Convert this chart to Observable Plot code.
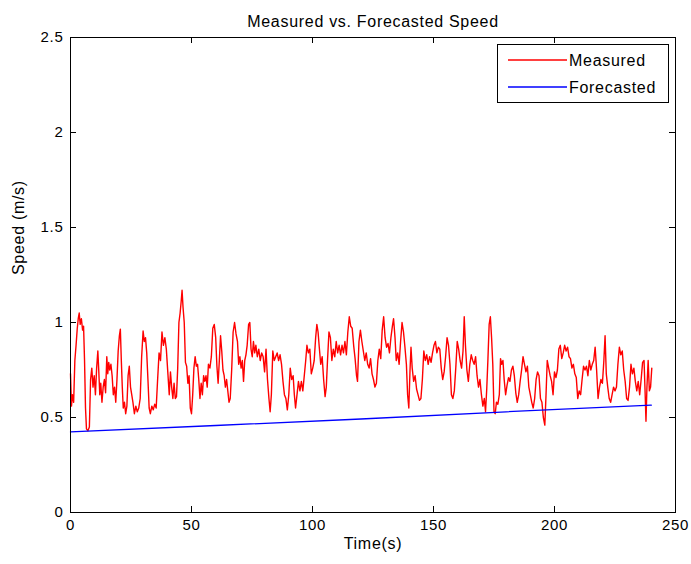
<!DOCTYPE html>
<html><head><meta charset="utf-8">
<script src="https://cdn.jsdelivr.net/npm/d3@7"></script>
<script src="https://cdn.jsdelivr.net/npm/@observablehq/plot@0.6"></script>
<style>
body{margin:0;background:#fff;font-family:"Liberation Sans",Arial,sans-serif}
#wrap{position:relative;width:691px;height:564px}
#wrap svg text{letter-spacing:0.7px}
#legend{position:absolute;left:497px;top:44px;width:172px;height:59px;border:1px solid #000;background:#fff;box-sizing:border-box}
#legend svg{display:block}
</style></head><body><div id="wrap"></div>
<script>
const title = "Measured vs. Forecasted Speed";
const xLabel = "Time(s)";
const yLabel = "Speed (m/s)";
const seriesNames = ["Measured", "Forecasted"];
const xTicks = [0, 50, 100, 150, 200, 250];
const yTicks = [0, 0.5, 1, 1.5, 2, 2.5];

const measuredTime = [0,0.4,0.8,1.3,1.8,2.3,2.8,3.2,3.6,4.0,4.5,5.0,5.4,5.8,6.2,6.6,7.2,7.8,8.3,8.8,9.3,9.8,10.3,10.8,11.3,11.7,12.1,12.5,13.0,13.5,14.0,14.5,15.0,15.4,15.8,16.2,16.7,17.2,17.7,18.2,18.7,19.2,19.7,20.2,20.6,21.0,21.4,21.8,22.3,22.8,23.3,23.8,24.3,24.8,25.3,25.8,26.4,27.0,27.6,28.2,28.8,29.4,30.0,30.5,31.0,31.5,32.0,32.5,33.0,33.6,34.2,34.8,35.4,36.0,36.6,37.2,37.8,38.4,39.0,39.6,40.2,40.8,41.3,41.8,42.3,42.8,43.3,43.8,44.3,44.8,45.3,45.8,46.1,46.5,47.0,47.5,48.0,48.5,49.0,49.5,50.0,50.5,51.0,51.5,52.0,52.5,53.0,53.5,54.0,54.5,55.0,55.5,56.0,56.5,57.0,57.6,58.2,58.8,59.4,60.0,60.5,61.0,61.5,62.0,62.5,63.0,63.5,64.0,64.5,65.0,65.5,66.0,66.6,67.2,67.8,68.4,69.0,69.5,70.0,70.5,71.0,71.5,72.0,72.5,73.0,73.6,74.1,74.6,75.1,75.6,76.1,76.6,77.2,77.8,78.4,79.0,79.6,80.2,80.8,81.4,82.0,82.5,83.0,83.6,84.2,84.8,85.4,86.0,86.6,87.2,87.8,88.4,89.0,89.6,90.2,90.8,91.4,92.0,92.5,93.0,93.6,94.2,94.8,95.4,96.0,96.6,97.2,97.7,98.3,98.9,99.5,100.1,100.7,101.3,101.8,102.3,102.8,103.4,104.0,104.6,105.2,105.7,106.2,106.8,107.4,108.0,108.6,109.2,109.8,110.4,111.0,111.6,112.2,112.8,113.4,114.0,114.6,115.2,115.8,116.4,117.0,117.6,118.2,118.6,119.2,119.8,120.4,121.0,121.6,122.2,122.8,123.4,124.0,124.6,125.2,125.8,126.4,127.0,127.6,128.2,128.8,129.4,130.0,130.6,131.2,131.8,132.4,133.0,133.5,134.1,134.6,135.2,135.8,136.4,137.0,137.6,138.2,138.8,139.3,139.8,140.3,140.7,141.2,141.8,142.4,143.0,143.6,144.2,144.8,145.4,146.0,146.6,147.2,147.8,148.4,149.0,149.6,150.2,150.8,151.4,152.0,152.6,153.2,153.8,154.4,155.0,155.6,156.2,156.8,157.4,158.0,158.6,159.2,159.8,160.4,161.0,161.6,162.2,162.7,163.2,163.8,164.4,165.0,165.6,166.2,166.8,167.4,168.0,168.6,169.2,169.8,170.4,171.0,171.5,172.0,172.5,173.0,173.5,174.0,174.5,175.0,175.5,176.0,176.6,177.2,177.7,178.2,178.7,179.2,179.8,180.4,181.0,181.6,182.2,182.8,183.4,184.0,184.6,185.2,185.8,186.4,187.0,187.6,188.2,188.8,189.4,190.0,190.6,191.2,191.8,192.4,193.0,193.6,194.2,194.8,195.4,196.0,196.5,197.0,197.6,198.2,198.8,199.4,200.0,200.6,201.2,201.8,202.4,203.0,203.6,204.2,204.8,205.4,206.0,206.6,207.2,207.8,208.4,209.0,209.6,210.2,210.8,211.4,212.0,212.6,213.2,213.8,214.4,215.0,215.6,216.2,216.8,217.4,218.0,218.6,219.2,219.8,220.4,220.9,221.4,222.0,222.6,223.2,223.8,224.4,225.0,225.6,226.2,226.8,227.4,228.0,228.6,229.2,229.8,230.4,231.0,231.6,232.2,232.8,233.4,234.0,234.6,235.2,235.8,236.4,237.0,237.4,237.8,238.2,238.7,239.2,239.7,240.2];
const measuredSpeed = [0.73,0.56,0.62,0.58,0.80,0.88,0.97,1.02,1.05,0.99,1.02,0.96,0.98,0.80,0.55,0.44,0.43,0.45,0.70,0.76,0.66,0.72,0.62,0.76,0.85,0.74,0.62,0.68,0.58,0.66,0.70,0.63,0.82,0.73,0.79,0.75,0.78,0.72,0.62,0.66,0.58,0.70,0.85,0.93,0.965,0.80,0.66,0.55,0.58,0.52,0.56,0.72,0.77,0.66,0.62,0.58,0.52,0.56,0.53,0.55,0.60,0.82,0.955,0.90,0.92,0.84,0.70,0.55,0.52,0.56,0.54,0.57,0.55,0.70,0.84,0.80,0.95,0.88,0.92,0.86,0.74,0.62,0.74,0.66,0.60,0.68,0.60,0.61,0.76,1.0,1.05,1.12,1.17,1.08,1.0,0.79,0.77,0.68,0.72,0.55,0.52,0.62,0.76,0.82,0.77,0.78,0.70,0.60,0.68,0.62,0.72,0.69,0.72,0.66,0.78,0.76,0.82,0.97,0.99,0.92,0.77,0.68,0.80,0.93,0.85,0.75,0.72,0.66,0.70,0.64,0.58,0.60,0.75,0.95,1.00,0.94,0.90,0.78,0.82,0.76,0.80,0.69,0.80,0.83,0.88,0.99,1.00,0.86,0.82,0.90,0.84,0.88,0.82,0.86,0.80,0.84,0.82,0.74,0.86,0.70,0.60,0.53,0.62,0.85,0.80,0.82,0.84,0.80,0.83,0.78,0.69,0.62,0.60,0.54,0.62,0.76,0.70,0.72,0.62,0.55,0.62,0.69,0.64,0.69,0.64,0.72,0.80,0.88,0.84,0.86,0.73,0.76,0.80,0.92,0.99,0.95,0.87,0.78,0.82,0.70,0.61,0.66,0.80,0.95,0.92,0.80,0.86,0.82,0.90,0.84,0.88,0.83,0.88,0.84,0.90,0.83,0.95,1.03,0.98,0.97,0.88,0.81,0.72,0.69,0.90,0.96,0.90,0.85,0.80,0.84,0.78,0.76,0.81,0.73,0.70,0.66,0.68,0.80,0.86,0.81,0.96,1.03,0.92,0.87,0.89,0.84,0.92,0.98,1.02,0.92,0.80,0.84,0.78,0.90,1.00,0.95,0.87,0.78,0.62,0.55,0.75,0.87,0.76,0.69,0.72,0.65,0.62,0.59,0.60,0.70,0.85,0.80,0.83,0.78,0.82,0.79,0.84,0.88,0.90,0.84,0.87,0.86,0.76,0.70,0.74,0.82,0.92,0.88,0.78,0.62,0.60,0.64,0.76,0.90,0.86,0.80,0.76,0.85,1.03,0.88,0.75,0.69,0.78,0.83,0.80,0.78,0.82,0.72,0.66,0.70,0.62,0.56,0.60,0.53,0.65,0.81,0.99,1.03,0.92,0.78,0.53,0.52,0.58,0.57,0.62,0.81,0.78,0.80,0.70,0.62,0.67,0.71,0.69,0.75,0.77,0.72,0.63,0.58,0.62,0.69,0.75,0.82,0.78,0.74,0.77,0.66,0.62,0.58,0.55,0.60,0.70,0.74,0.72,0.60,0.58,0.50,0.46,0.62,0.80,0.76,0.72,0.69,0.62,0.74,0.71,0.75,0.86,0.88,0.81,0.84,0.88,0.85,0.87,0.82,0.81,0.76,0.78,0.73,0.71,0.60,0.64,0.62,0.70,0.77,0.75,0.77,0.72,0.80,0.75,0.78,0.80,0.87,0.75,0.60,0.66,0.70,0.68,0.80,0.93,0.73,0.66,0.60,0.58,0.62,0.66,0.64,0.66,0.78,0.87,0.83,0.85,0.75,0.69,0.60,0.59,0.66,0.78,0.73,0.76,0.69,0.64,0.69,0.62,0.70,0.79,0.80,0.65,0.48,0.66,0.80,0.64,0.66,0.76];

const forecastTime = [0, 60, 120, 180, 240];
const forecastSpeed = [0.424, 0.458, 0.492, 0.530, 0.565];

const colors = ["#ff0000", "#0000ff"];

const measured = measuredTime.map((t, i) => ({t, v: measuredSpeed[i]}));
const forecast = forecastTime.map((t, i) => ({t, v: forecastSpeed[i]}));

const W = 691, H = 564, mL = 70, mR = 16, mT = 37, mB = 52;
const xDomain = [xTicks[0], xTicks[xTicks.length - 1]];
const yDomain = [yTicks[0], yTicks[yTicks.length - 1]];
// inward tick length of 6px expressed through the scales' spans
const tickPx = 6;
const tx = tickPx * (xDomain[1] - xDomain[0]) / (W - mL - mR);
const ty = tickPx * (yDomain[1] - yDomain[0]) / (H - mT - mB);

const plot = Plot.plot({
  width: W,
  height: H,
  marginLeft: mL,
  marginRight: mR,
  marginTop: mT,
  marginBottom: mB,
  style: {fontFamily: '"Liberation Sans", Arial, sans-serif', fontSize: "15px", color: "#000", background: "#fff"},
  x: {domain: xDomain},
  y: {domain: yDomain},
  marks: [
    Plot.line(measured, {x: "t", y: "v", stroke: colors[0], strokeWidth: 1.4}),
    Plot.line(forecast, {x: "t", y: "v", stroke: colors[1], strokeWidth: 1.3}),
    Plot.ruleX(xTicks, {x: d => d, y1: yDomain[0], y2: yDomain[0] + ty, stroke: "#000", strokeWidth: 1}),
    Plot.ruleX(xTicks, {x: d => d, y1: yDomain[1] - ty, y2: yDomain[1], stroke: "#000", strokeWidth: 1}),
    Plot.ruleY(yTicks, {y: d => d, x1: xDomain[0], x2: xDomain[0] + tx, stroke: "#000", strokeWidth: 1}),
    Plot.ruleY(yTicks, {y: d => d, x1: xDomain[1] - tx, x2: xDomain[1], stroke: "#000", strokeWidth: 1}),
    Plot.frame({stroke: "#000", strokeWidth: 1}),
    Plot.axisX({ticks: xTicks, tickSize: 0, tickPadding: 7, label: null, fontSize: 15, tickFormat: d => String(d)}),
    Plot.axisY({ticks: yTicks, tickSize: 0, tickPadding: 7, label: null, fontSize: 15, tickFormat: d => String(d)}),
    Plot.text([title], {text: d => d, frameAnchor: "top", dy: -22, fontSize: 16, fill: "#000"}),
    Plot.text([xLabel], {text: d => d, frameAnchor: "bottom", dy: 36, fontSize: 16, fill: "#000"}),
    Plot.text([yLabel], {text: d => d, frameAnchor: "left", dx: -52, rotate: -90, fontSize: 16, fill: "#000"})
  ]
});
const wrap = document.getElementById("wrap");
wrap.appendChild(plot);

// legend (HTML overlay, like MATLAB's boxed legend)
const legend = document.createElement("div");
legend.id = "legend";
const ns = "http://www.w3.org/2000/svg";
const lsvg = document.createElementNS(ns, "svg");
lsvg.setAttribute("width", 170);
lsvg.setAttribute("height", 57);
seriesNames.forEach((name, i) => {
  const y = 15 + i * 27;
  const ln = document.createElementNS(ns, "line");
  ln.setAttribute("x1", 10); ln.setAttribute("x2", 69);
  ln.setAttribute("y1", y); ln.setAttribute("y2", y);
  ln.setAttribute("stroke", colors[i]); ln.setAttribute("stroke-width", 1.3);
  lsvg.appendChild(ln);
  const t = document.createElementNS(ns, "text");
  t.setAttribute("x", 71); t.setAttribute("y", y);
  t.setAttribute("dy", "0.35em");
  t.setAttribute("font-size", 16);
  t.setAttribute("font-family", '"Liberation Sans", Arial, sans-serif');
  t.textContent = name;
  lsvg.appendChild(t);
});
legend.appendChild(lsvg);
wrap.appendChild(legend);
</script>
</body></html>
